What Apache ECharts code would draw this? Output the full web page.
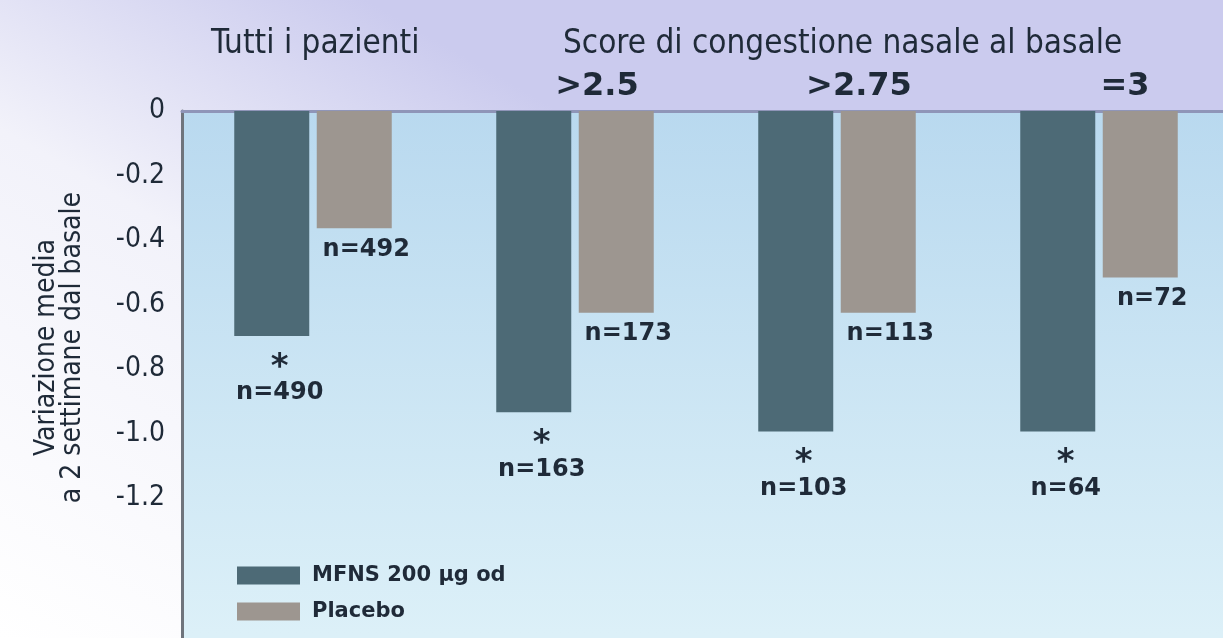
<!DOCTYPE html>
<html>
<head>
<meta charset="utf-8">
<script src="https://cdn.jsdelivr.net/npm/echarts@6/dist/echarts.min.js"></script>
<style>
  html, body { margin: 0; padding: 0; }
  #main { width: 1223px; height: 638px; }
</style>
</head>
<body>
<div id="main"></div>
<script>
// gruppi: tutti i pazienti + score di congestione al basale
const groups = ['', '>2.5', '>2.75', '=3'];
const mfns = [-0.698, -0.935, -0.995, -0.995];
const placebo = [-0.364, -0.626, -0.626, -0.517];
const mfnsN = ['n=490', 'n=163', 'n=103', 'n=64'];
const placeboN = ['n=492', 'n=173', 'n=113', 'n=72'];
const yTicks = [0, -0.2, -0.4, -0.6, -0.8, -1.0, -1.2];

const thin = '"DejaVu Sans Condensed", "DejaVu Sans", sans-serif';
const wide = '"DejaVu Sans", Verdana, sans-serif';
const ink = '#1f2a38';

var myChart = echarts.init(document.getElementById('main'));

let option = {
  animation: false,
  backgroundColor: {
    type: 'linear', x: 0, y: 1, x2: 0.3, y2: 0,
    colorStops: [
      { offset: 0, color: '#ffffff' },
      { offset: 0.6, color: '#f2f2fa' },
      { offset: 1, color: '#cbcbee' }
    ]
  },
  title: [
    {
      text: 'Tutti i pazienti',
      left: 206, top: 23,
      textStyle: { fontFamily: thin, fontSize: 33, fontWeight: 'normal', color: ink }
    },
    {
      text: 'Score di congestione nasale al basale',
      left: 558, top: 23,
      textStyle: { fontFamily: thin, fontSize: 33, fontWeight: 'normal', color: ink }
    }
  ],
  graphic: [{
    type: 'text',
    left: 33, top: 192,
    rotation: Math.PI / 2,
    style: {
      text: 'Variazione media\na 2 settimane dal basale',
      fontFamily: thin, fontSize: 28, fill: ink,
      textAlign: 'center', lineHeight: 26
    }
  }],
  legend: {
    orient: 'vertical',
    left: 232, top: 560,
    itemWidth: 63, itemHeight: 18, itemGap: 15,
    icon: 'rect',
    textStyle: { fontFamily: wide, fontSize: 21, fontWeight: 'bold', color: ink, padding: [0, 0, 0, 7] },
    data: ['MFNS 200 µg od', 'Placebo']
  },
  grid: {
    left: 182, right: -7, top: 111, height: 580,
    outerBoundsMode: 'none',
    containLabel: false,
    show: true,
    borderWidth: 0,
    backgroundColor: {
      type: 'linear', x: 0, y: 0, x2: 0, y2: 1,
      colorStops: [
        { offset: 0, color: '#b9d9ef' },
        { offset: 0.9, color: '#dcf0f8' },
        { offset: 1, color: '#dcf0f8' }
      ]
    }
  },
  xAxis: {
    type: 'category',
    position: 'top',
    data: groups,
    axisLine: { show: true, lineStyle: { color: '#8f95b8', width: 3 } },
    axisTick: { show: false },
    axisLabel: {
      margin: 8,
      padding: [0, 0, 0, 44],
      fontFamily: wide, fontSize: 32, fontWeight: 'bold', color: ink,
      formatter: function (v) { return v === '=3' ? '{s|' + v + '}' : v; },
      rich: {
        s: { fontFamily: wide, fontSize: 32, fontWeight: 'bold', color: ink, padding: [0, 0, 0, 8] }
      }
    }
  },
  yAxis: {
    type: 'value',
    min: -1.8, max: 0, interval: 0.2,
    splitLine: { show: false },
    axisTick: { show: false },
    axisLine: { show: true, lineStyle: { color: '#6f747c', width: 3 } },
    axisLabel: {
      margin: 17,
      fontFamily: thin, fontSize: 28, color: ink,
      formatter: function (v) {
        let t = yTicks.find(function (x) { return Math.abs(x - v) < 1e-6; });
        if (t === undefined) return '';
        return t === 0 ? '0' : t.toFixed(1);
      }
    }
  },
  series: [
    {
      name: 'MFNS 200 µg od',
      type: 'bar',
      data: mfns,
      barWidth: 75,
      barGap: '10%',
      itemStyle: { color: '#4d6a76' },
      label: {
        show: true,
        position: 'bottom',
        offset: [8, 0],
        distance: 22,
        align: 'center',
        formatter: function (p) { return '{a|*}\n{n|' + mfnsN[p.dataIndex] + '}'; },
        rich: {
          a: { fontFamily: wide, fontSize: 34, fontWeight: 'bold', color: ink, lineHeight: 20, height: 20 },
          n: { fontFamily: wide, fontSize: 24, fontWeight: 'bold', color: ink, lineHeight: 30 }
        }
      }
    },
    {
      name: 'Placebo',
      type: 'bar',
      data: placebo,
      barWidth: 75,
      itemStyle: { color: '#9d9690' },
      label: {
        show: true,
        position: 'bottom',
        offset: [12, 1],
        distance: 8,
        fontFamily: wide, fontSize: 24, fontWeight: 'bold', color: ink,
        formatter: function (p) { return placeboN[p.dataIndex]; }
      }
    }
  ]
};

myChart.setOption(option);
</script>
</body>
</html>
